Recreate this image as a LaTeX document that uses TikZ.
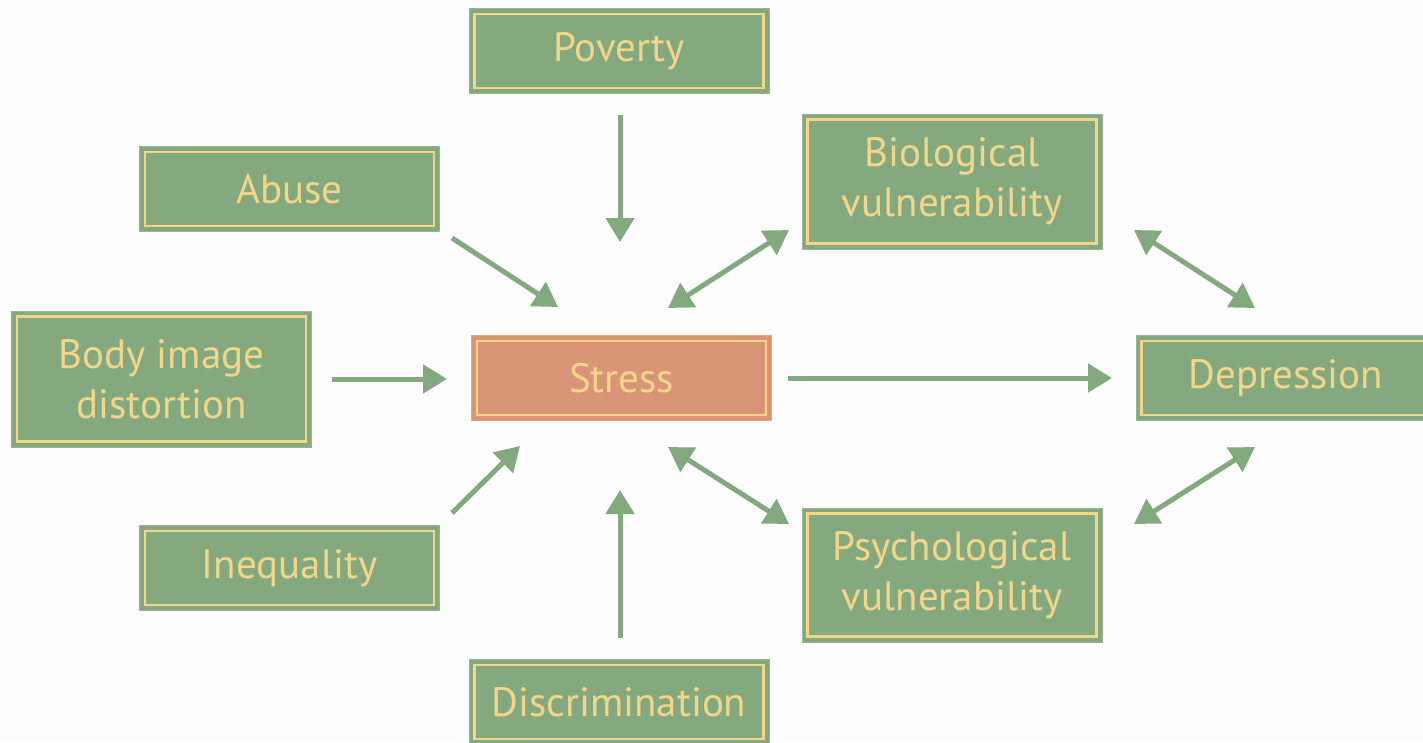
\documentclass[tikz,border=0pt]{standalone}
\usepackage{fontspec}
\setmainfont{PT Sans}
\usetikzlibrary{arrows.meta}
\definecolor{boxgreen}{HTML}{84A97F}
\definecolor{boxline}{HTML}{F3D68A}
\definecolor{stressfill}{HTML}{DA9579}
\definecolor{arrowgreen}{HTML}{83AA7E}
\definecolor{bgwhite}{HTML}{FDFDFD}
\tikzset{
  factor/.style={fill=boxgreen, draw=boxgreen!85!white, line width=1pt,
    minimum width=300pt, minimum height=85pt, inner sep=0pt,
    text=boxline, align=center, font=\fontsize{41}{50}\selectfont,
    path picture={\draw[boxline, line width=2.2pt]
      ([shift={(5.5pt,-5.5pt)}]path picture bounding box.north west) rectangle
      ([shift={(-5.5pt,5.5pt)}]path picture bounding box.south east);}},
  stressbox/.style={factor, fill=stressfill, draw=stressfill!85!white},
  arr/.style={draw=arrowgreen, line width=5pt,
    -{Triangle[length=24pt,width=28pt]}},
  darr/.style={arr, {Triangle[length=24pt,width=28pt]}-{Triangle[length=24pt,width=28pt]}}
}
\begin{document}
\begin{tikzpicture}[x=1pt,y=-1pt]
\clip (0,0) rectangle (1423,742);
\fill[bgwhite] (0,0) rectangle (1423,742);
\node[factor] (poverty) at (619,51) {Poverty};
\node[factor] (abuse) at (289.5,189) {Abuse};
\node[factor, minimum height=136pt] (body) at (161.5,379) {Body image\\distortion};
\node[factor] (inequality) at (289.5,568) {Inequality};
\node[factor] (discrimination) at (619,702) {Discrimination};
\node[stressbox] (stress) at (621.5,378) {Stress};
\node[factor, minimum height=135pt] (bio) at (952,181.5) {Biological\\vulnerability};
\node[factor, minimum height=134pt] (psych) at (952,575) {Psychological\\vulnerability};
\node[factor] (depression) at (1286,378) {Depression};
% arrow end points
\coordinate (povA) at (620,115);   \coordinate (povB) at (620,242);
\coordinate (abA) at (452,238);    \coordinate (abB) at (558,307);
\coordinate (boA) at (332,379);    \coordinate (boB) at (447,379);
\coordinate (inA) at (452,513);    \coordinate (inB) at (520,446);
\coordinate (diA) at (620,638);    \coordinate (diB) at (620,490);
\coordinate (stA) at (788,378);    \coordinate (stB) at (1112,378);
\coordinate (sbA) at (668,308);    \coordinate (sbB) at (789,230);
\coordinate (spA) at (668,447);    \coordinate (spB) at (789,524);
\coordinate (bdA) at (1134,230);   \coordinate (bdB) at (1255,308);
\coordinate (pdA) at (1134,524);   \coordinate (pdB) at (1255,447);
\draw[arr] (povA) -- (povB);
\draw[arr] (abA) -- (abB);
\draw[arr] (boA) -- (boB);
\draw[arr] (inA) -- (inB);
\draw[arr] (diA) -- (diB);
\draw[arr] (stA) -- (stB);
\draw[darr] (sbA) -- (sbB);
\draw[darr] (spA) -- (spB);
\draw[darr] (bdA) -- (bdB);
\draw[darr] (pdA) -- (pdB);
\end{tikzpicture}
\end{document}
